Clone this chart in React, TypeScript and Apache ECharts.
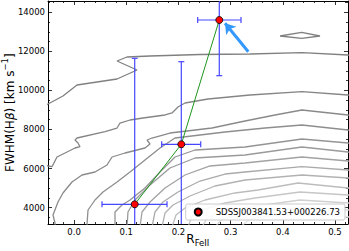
import React, { useEffect, useRef } from "react";
import * as echarts from "echarts";

const X_MIN = -0.05;
const X_MAX = 0.525;
const Y_MIN = 3160;
const Y_MAX = 14580;
const X_MAJOR = [0, 0.1, 0.2, 0.3, 0.4, 0.5];
const X_MINOR = [-0.04, -0.02, 0.02, 0.04, 0.06, 0.08, 0.12, 0.14, 0.16, 0.18, 0.22, 0.24, 0.26, 0.28, 0.32, 0.34, 0.36, 0.38, 0.42, 0.44, 0.46, 0.48, 0.52];
const Y_MAJOR = [4000, 6000, 8000, 10000, 12000, 14000];
const Y_MINOR = [3500, 4500, 5000, 5500, 6500, 7000, 7500, 8500, 9000, 9500, 10500, 11000, 11500, 12500, 13000, 13500, 14500];

// object
const OBJ_NAME = "SDSSJ003841.53+000226.73";
const RFE = [0.1162, 0.2055, 0.2783];
const FWHM = [4169, 7242, 13607];
const RFE_LO = [0.0535, 0.1679, 0.2369];
const RFE_HI = [0.1781, 0.2427, 0.3199];
const FWHM_LO = [-3310, 3012, 10755];
const FWHM_HI = [11646, 11472, 16459];

// arrow annotation (tail -> head)
const ARROW = [[0.3339, 11984], [0.2893, 13438]];

// density contours (outer -> inner)
const C1 = [[-0.07, 9000], [-0.05, 9305], [-0.0213, 9715], [0.0056, 10278], [0.0823, 10586], [0.1206, 11047], [0.0823, 11507], [0.1014, 11712], [0.1455, 11763], [0.2413, 11840], [0.3372, 11866], [0.4368, 11932], [0.525, 11815], [0.55, 11790]];
const C1B = [[0.3947, 12788], [0.4362, 12977], [0.4713, 12788], [0.4362, 12670], [0.3947, 12788]];
const C2 = [[-0.07, 6250], [-0.05, 6131], [-0.0423, 6095], [-0.0328, 6591], [-0.0174, 6796], [0.0018, 7052], [0.0113, 7118], [0.0075, 7308], [0.0018, 7462], [0.0056, 7564], [0.0593, 7887], [0.0823, 8076], [0.088, 8332], [0.1072, 8486], [0.1321, 8589], [0.1743, 8742], [0.1877, 8845], [0.1992, 9152], [0.2126, 9357], [0.2567, 9561], [0.3372, 9766], [0.4368, 9935], [0.525, 9766], [0.55, 9740]];
const C3 = [[-0.0366, 3000], [-0.0366, 3212], [-0.0404, 3621], [-0.0308, 4287], [-0.0213, 4748], [-0.004, 5311], [0.0152, 5669], [0.0401, 5823], [0.0631, 6182], [0.0727, 6591], [0.0976, 6796], [0.1359, 7052], [0.1455, 7257], [0.1398, 7462], [0.1493, 7564], [0.1838, 7820], [0.2643, 8076], [0.3276, 8435], [0.3851, 8742], [0.4368, 8998], [0.525, 8742], [0.55, 8700]];
const C4 = [[0.0248, 3000], [0.0248, 3160], [0.0267, 3877], [0.0401, 4389], [0.0554, 4799], [0.0823, 5311], [0.1072, 5823], [0.1359, 6438], [0.1647, 7052], [0.1934, 7564], [0.2893, 7871], [0.3659, 8076], [0.4368, 8230], [0.525, 7974], [0.55, 7940]];
const C5 = [[0.0784, 3000], [0.0784, 3775], [0.0918, 4133], [0.1072, 4389], [0.1359, 5004], [0.1647, 5823], [0.1934, 6591], [0.2318, 6950], [0.3276, 7103], [0.4368, 7513], [0.525, 7308], [0.55, 7280]];
const C6 = [[0.1014, 3000], [0.1033, 3775], [0.1168, 4389], [0.1455, 5158], [0.1838, 6028], [0.2318, 6540], [0.3276, 6694], [0.4368, 7103], [0.525, 6847], [0.55, 6820]];
const C7 = [[0.1263, 3000], [0.1302, 3775], [0.1455, 4287], [0.1743, 5004], [0.2126, 5669], [0.2605, 6131], [0.3276, 6284], [0.4368, 6591], [0.525, 6386], [0.55, 6360]];
const C8 = [[0.1493, 3000], [0.1551, 3775], [0.1704, 4287], [0.1992, 4799], [0.2413, 5362], [0.2893, 5720], [0.3276, 5823], [0.4368, 6095], [0.525, 5925], [0.55, 5900]];
const C9 = [[0.1685, 3000], [0.1743, 3724], [0.1896, 4133], [0.2222, 4594], [0.2701, 5106], [0.3276, 5413], [0.4368, 5669], [0.525, 5516], [0.55, 5500]];
const C10 = [[0.1877, 3000], [0.1953, 3621], [0.2126, 3980], [0.2509, 4389], [0.3084, 4748], [0.3525, 4901], [0.4292, 5260], [0.525, 5004], [0.55, 4990]];
const C11 = [[0.2183, 3000], [0.226, 3570], [0.2452, 3877], [0.2893, 4236], [0.3468, 4492], [0.433, 4799], [0.525, 4645], [0.55, 4630]];
const C12 = [[0.2452, 3000], [0.2548, 3468], [0.2797, 3775], [0.3372, 4031], [0.433, 4389], [0.525, 4236], [0.55, 4220]];
const C13 = [[0.2701, 3000], [0.2835, 3416], [0.3276, 3672], [0.3659, 3775], [0.433, 4031], [0.525, 3877], [0.55, 3860]];
const C14 = [[0.318, 3000], [0.3372, 3416], [0.3755, 3570], [0.433, 3724], [0.4713, 3621], [0.525, 3519], [0.55, 3500]];
const CONTOURS = [C1, C1B, C2, C3, C4, C5, C6, C7, C8, C9, C10, C11, C12, C13, C14];
const CONTOUR_COLORS = ["#808080", "#808080", "#858585", "#8a8a8a", "#8e8e8e", "#949494", "#9a9a9a", "#a2a2a2", "#aaaaaa", "#b2b2b2", "#bcbcbc", "#c6c6c6", "#d0d0d0", "#dadada", "#e4e4e4"];

const FONT = "DejaVu Sans";

function xAxisDef(position: string, values: number[], len: number, labels: boolean, line: boolean) {
  return {
    type: "value",
    position,
    min: X_MIN,
    max: X_MAX,
    splitLine: { show: false },
    axisLine: { show: line, onZero: false, lineStyle: { color: "#000", width: 1 } },
    axisTick: { show: true, inside: true, length: len, customValues: values, lineStyle: { color: "#000", width: 0.8 } },
    axisLabel: labels
      ? { show: true, customValues: values, formatter: (v: number) => v.toFixed(1), fontSize: 8.5, color: "#000", margin: 3.5, fontFamily: FONT }
      : { show: false },
  };
}
function yAxisDef(position: string, values: number[], len: number, labels: boolean, line: boolean) {
  return {
    type: "value",
    position,
    min: Y_MIN,
    max: Y_MAX,
    splitLine: { show: false },
    axisLine: { show: line, onZero: false, lineStyle: { color: "#000", width: 1 } },
    axisTick: { show: true, inside: true, length: len, customValues: values, lineStyle: { color: "#000", width: 0.8 } },
    axisLabel: labels
      ? { show: true, customValues: values, formatter: (v: number) => String(v), fontSize: 8.5, color: "#000", margin: 3, fontFamily: FONT }
      : { show: false },
  };
}

export default function App() {
  const ref = useRef<HTMLDivElement>(null);
  useEffect(() => {
    document.body.style.margin = "0";
    const chart = echarts.init(ref.current!, null, { renderer: "svg" });
    const xAxes: any[] = [
      xAxisDef("bottom", X_MAJOR, 4, true, true),
      xAxisDef("bottom", X_MINOR, 2, false, false),
      xAxisDef("top", X_MAJOR, 4, false, true),
      xAxisDef("top", X_MINOR, 2, false, false),
    ];
    xAxes[0].name = "{r|R}{s|FeII}{z| }";
    xAxes[0].nameLocation = "middle";
    xAxes[0].nameGap = 9;
    xAxes[0].nameMoveOverlap = false;
    xAxes[0].nameTextStyle = {
      rich: {
        r: { fontSize: 12, lineHeight: 12, verticalAlign: "top", fontFamily: FONT, color: "#000" },
        s: { fontSize: 8.5, lineHeight: 9, verticalAlign: "bottom", fontFamily: FONT, color: "#000" },
        z: { fontSize: 1, lineHeight: 14, fontFamily: FONT },
      },
    };
    const yAxes: any[] = [
      yAxisDef("left", Y_MAJOR, 4, true, true),
      yAxisDef("left", Y_MINOR, 2, false, false),
      yAxisDef("right", Y_MAJOR, 4, false, true),
      yAxisDef("right", Y_MINOR, 2, false, false),
    ];
    yAxes[0].name = "{a|FWHM(H}{b|β}{a|) [km s}{p|−1}{a|]}{z| }";
    yAxes[0].nameLocation = "middle";
    yAxes[0].nameGap = 32;
    yAxes[0].nameMoveOverlap = false;
    yAxes[0].nameTextStyle = {
      rich: {
        a: { fontSize: 12, lineHeight: 12, verticalAlign: "bottom", fontFamily: FONT, color: "#000" },
        b: { fontSize: 12, lineHeight: 12, verticalAlign: "bottom", fontFamily: FONT, fontStyle: "italic", color: "#000" },
        p: { fontSize: 8.5, lineHeight: 9, verticalAlign: "top", fontFamily: FONT, color: "#000" },
        z: { fontSize: 1, lineHeight: 16, fontFamily: FONT },
      },
    };

    const contourSeries = CONTOURS.map((c, i) => ({
      type: "line",
      data: c,
      xAxisIndex: 0,
      yAxisIndex: 0,
      showSymbol: false,
      symbol: "none",
      clip: true,
      silent: true,
      z: 1,
      lineStyle: { color: CONTOUR_COLORS[i], width: 1.3 },
    }));

    const errData = RFE.map((x, i) => [x, FWHM[i], RFE_LO[i], RFE_HI[i], FWHM_LO[i], FWHM_HI[i]]);
    const EB = "#4646ff";

    chart.setOption({
      animation: false,
      textStyle: { fontFamily: FONT },
      grid: { left: 48, right: 1, top: 1, bottom: 27, containLabel: false, outerBoundsMode: "none" },
      xAxis: xAxes,
      yAxis: yAxes,
      legend: {
        data: [{ name: OBJ_NAME, icon: "circle" }],
        right: 4,
        bottom: 31,
        orient: "vertical",
        padding: [3, 5, 3, 8],
        itemWidth: 7,
        itemHeight: 7,
        backgroundColor: "rgba(255,255,255,0.85)",
        borderColor: "#cccccc",
        borderWidth: 1,
        borderRadius: 2,
        textStyle: { fontSize: 8.5, lineHeight: 10, color: "#000", fontFamily: FONT, padding: [0, 0, 0, 9] },
      },
      series: [
        ...contourSeries,
        {
          type: "custom",
          xAxisIndex: 0,
          yAxisIndex: 0,
          clip: true,
          z: 3,
          silent: true,
          data: errData,
          renderItem: (params: any, api: any) => {
            const x = api.value(0), y = api.value(1);
            const pL = api.coord([api.value(2), y]);
            const pR = api.coord([api.value(3), y]);
            const pB = api.coord([x, api.value(4)]);
            const pT = api.coord([x, api.value(5)]);
            const cap = 3;
            const st = { stroke: EB, lineWidth: 1.2, fill: null };
            const ln = (x1: number, y1: number, x2: number, y2: number) => ({ type: "line", shape: { x1, y1, x2, y2 }, style: st });
            return {
              type: "group",
              children: [
                ln(pL[0], pL[1], pR[0], pR[1]),
                ln(pL[0], pL[1] - cap, pL[0], pL[1] + cap),
                ln(pR[0], pR[1] - cap, pR[0], pR[1] + cap),
                ln(pB[0], pB[1], pT[0], pT[1]),
                ln(pB[0] - cap, pB[1], pB[0] + cap, pB[1]),
                ln(pT[0] - cap, pT[1], pT[0] + cap, pT[1]),
              ],
            };
          },
        },
        {
          type: "line",
          xAxisIndex: 0,
          yAxisIndex: 0,
          data: RFE.map((x, i) => [x, FWHM[i]]),
          showSymbol: false,
          symbol: "none",
          z: 4,
          silent: true,
          lineStyle: { color: "#1e961e", width: 1 },
        },
        {
          type: "lines",
          coordinateSystem: "cartesian2d",
          xAxisIndex: 0,
          yAxisIndex: 0,
          z: 4,
          silent: true,
          symbol: ["none", "arrow"],
          symbolSize: 10,
          lineStyle: { color: "#3399ff", width: 3, opacity: 1 },
          data: [{ coords: ARROW }],
        },
        {
          type: "scatter",
          name: OBJ_NAME,
          xAxisIndex: 0,
          yAxisIndex: 0,
          z: 5,
          symbol: "circle",
          symbolSize: 7,
          itemStyle: { color: "#ff0000", borderColor: "#000", borderWidth: 0.8, opacity: 1 },
          data: RFE.map((x, i) => [x, FWHM[i]]),
        },
      ],
    });
    return () => chart.dispose();
  }, []);
  return <div ref={ref} style={{ width: 349, height: 251 }} />;
}
